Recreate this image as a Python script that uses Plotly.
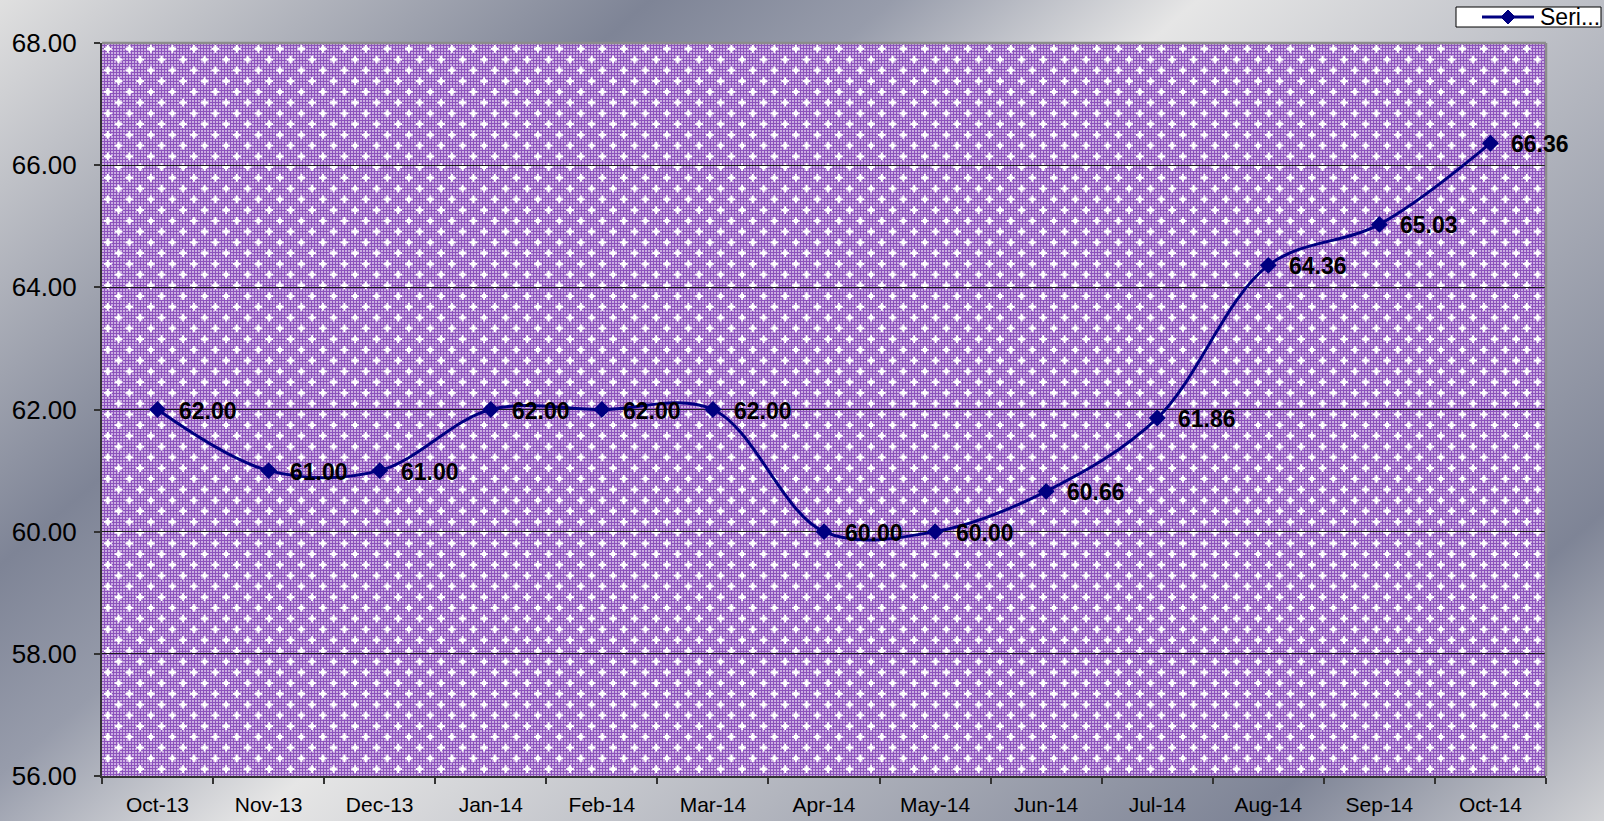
import base64
import plotly.graph_objects as go

months = ["Oct-13", "Nov-13", "Dec-13", "Jan-14", "Feb-14", "Mar-14", "Apr-14",
          "May-14", "Jun-14", "Jul-14", "Aug-14", "Sep-14", "Oct-14"]
values = [62.00, 61.00, 61.00, 62.00, 62.00, 62.00, 60.00, 60.00, 60.66, 61.86, 64.36, 65.03, 66.36]
y_ticks = [56, 58, 60, 62, 64, 66, 68]
series_name = "Seri..."

W, H = 1604, 821
L, R, T, B = 102, 58, 43, 45
PW, PH = W - L - R, H - T - B
NAVY = "#000080"


def px(xpix):
    return (xpix - L) / PW


def py(ypix):
    return (H - B - ypix) / PH


bg_svg = f'''<svg xmlns="http://www.w3.org/2000/svg" width="{W}" height="{H}" viewBox="0 0 {W} {H}" preserveAspectRatio="none">
<defs><linearGradient id="g" gradientUnits="userSpaceOnUse" x1="0" y1="0" x2="1097" y2="1262">
<stop offset="0" stop-color="#e0e0e0"/>
<stop offset="0.255" stop-color="#7e8496"/>
<stop offset="0.35" stop-color="#979cab"/>
<stop offset="0.47" stop-color="#e6e6e6"/>
<stop offset="0.86" stop-color="#7e8496"/>
<stop offset="1" stop-color="#d2d3d6"/>
</linearGradient></defs>
<rect x="0" y="0" width="{W}" height="{H}" fill="url(#g)"/>
</svg>'''

pat_svg = f'''<svg xmlns="http://www.w3.org/2000/svg" width="{PW}" height="{PH}" viewBox="0 0 {PW} {PH}" preserveAspectRatio="none" shape-rendering="crispEdges">
<defs>
<pattern id="c" width="3" height="3" patternUnits="userSpaceOnUse">
<rect width="3" height="3" fill="#8c52bc"/>
<rect x="0" y="0" width="2" height="2" fill="#cbaee2"/>
</pattern>
<pattern id="s" width="21.5" height="21.5" patternUnits="userSpaceOnUse">
<rect x="2" y="5" width="8" height="2" fill="#ffffff"/>
<rect x="5" y="2" width="2" height="8" fill="#ffffff"/>
<rect x="4" y="4" width="4" height="4" fill="#ffffff"/>
<rect x="12.75" y="15.75" width="8" height="2" fill="#ffffff"/>
<rect x="15.75" y="12.75" width="2" height="8" fill="#ffffff"/>
<rect x="14.75" y="14.75" width="4" height="4" fill="#ffffff"/>
</pattern>
</defs>
<rect width="{PW}" height="{PH}" fill="url(#c)"/>
<rect width="{PW}" height="{PH}" fill="url(#s)"/>
</svg>'''


def uri(svg):
    return "data:image/svg+xml;base64," + base64.b64encode(svg.encode()).decode()


fig = go.Figure()
fig.add_trace(go.Scatter(
    x=months, y=values, mode="lines+markers", name=series_name,
    line=dict(color=NAVY, width=3, shape="spline", smoothing=1.0),
    marker=dict(symbol="diamond", size=13, color=NAVY),
    showlegend=False,
))

for m, v in zip(months, values):
    fig.add_annotation(x=m, y=v, text=f"{v:.2f}", showarrow=False,
                       xanchor="left", yanchor="middle", xshift=19, yshift=-1,
                       font=dict(family="Liberation Sans Narrow, Arial Narrow, Liberation Sans, Arial",
                                 size=23, color="#000000", weight="bold"))

# legend box (drawn manually to match the clipped Excel legend)
fig.add_annotation(xref="paper", yref="paper", x=px(1538), y=py(17), text=series_name,
                   showarrow=False, xanchor="left", yanchor="middle",
                   font=dict(family="Liberation Sans, Arial", size=23, color="#000000"))

legend_shapes = [
    dict(type="rect", xref="paper", yref="paper", x0=px(1456), x1=px(1601), y0=py(27), y1=py(7),
         fillcolor="#ffffff", line=dict(color="#000000", width=1), layer="above"),
    dict(type="line", xref="paper", yref="paper", x0=px(1482), x1=px(1534), y0=py(17), y1=py(17),
         line=dict(color=NAVY, width=3)),
    dict(type="path", xref="paper", yref="paper",
         path=f"M {px(1508)},{py(10)} L {px(1515)},{py(17)} L {px(1508)},{py(24)} L {px(1501)},{py(17)} Z",
         fillcolor=NAVY, line=dict(color=NAVY, width=1)),
]

fig.update_layout(
    width=W, height=H,
    margin=dict(l=L, r=R, t=T, b=B, pad=0, autoexpand=False),
    paper_bgcolor="#b4b8c0",
    plot_bgcolor="rgba(0,0,0,0)",
    font=dict(family="Liberation Sans, Arial", color="#000000"),
    images=[
        dict(source=uri(bg_svg), xref="paper", yref="paper",
             x=-L / PW, y=1 + T / PH, sizex=W / PW, sizey=H / PH,
             xanchor="left", yanchor="top", sizing="stretch", layer="below"),
        dict(source=uri(pat_svg), xref="paper", yref="paper",
             x=0, y=1, sizex=1, sizey=1,
             xanchor="left", yanchor="top", sizing="stretch", layer="below"),
    ],
    showlegend=False,
    xaxis=dict(type="category", range=[-0.5, 12.5], tickson="boundaries",
               ticks="outside", ticklen=6, tickcolor="#333333", tickwidth=1.5,
               showgrid=False, showline=True, linecolor="#333333", linewidth=2,
               tickfont=dict(size=21), ticklabelstandoff=9, zeroline=False,
               automargin=False),
    yaxis=dict(range=[56, 68], tickvals=y_ticks, tickformat=".2f",
               ticks="outside", ticklen=6, tickcolor="#333333", tickwidth=1.5,
               showgrid=True, gridcolor="#1a1a1a", gridwidth=1,
               showline=True, linecolor="#333333", linewidth=2,
               tickfont=dict(size=26), ticklabelstandoff=12, zeroline=False,
               automargin=False),
    shapes=[
        dict(type="line", xref="paper", yref="paper", x0=0, x1=1, y0=1, y1=1,
             line=dict(color="#8c8c8c", width=2.5)),
        dict(type="line", xref="paper", yref="paper", x0=1, x1=1, y0=0, y1=1,
             line=dict(color="#8c8c8c", width=2.5)),
    ] + legend_shapes,
)

fig.write_html("out.html")
